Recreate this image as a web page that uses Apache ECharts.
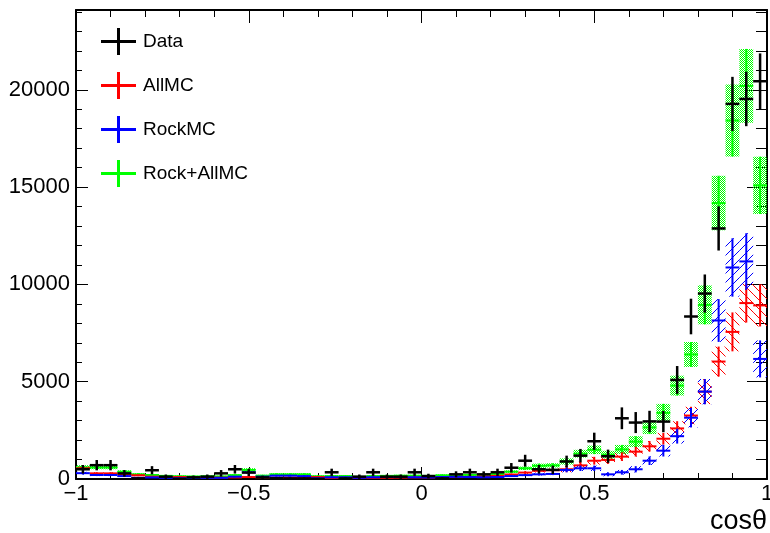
<!DOCTYPE html>
<html>
<head>
<meta charset="utf-8">
<title>cos theta</title>
<script src="https://cdn.jsdelivr.net/npm/echarts@6/dist/echarts.min.js"></script>
<style>
  html, body { margin: 0; padding: 0; background: #fff; }
  #main { width: 770px; height: 533px; }
</style>
</head>
<body>
<div id="main"></div>
<script>
// bin centres (50 bins, width 0.04, from -1 to 1)
var binCenters = [
  -0.98, -0.94, -0.90, -0.86, -0.82, -0.78, -0.74, -0.70, -0.66, -0.62,
  -0.58, -0.54, -0.50, -0.46, -0.42, -0.38, -0.34, -0.30, -0.26, -0.22,
  -0.18, -0.14, -0.10, -0.06, -0.02, 0.02, 0.06, 0.10, 0.14, 0.18,
  0.22, 0.26, 0.30, 0.34, 0.38, 0.42, 0.46, 0.50, 0.54, 0.58,
  0.62, 0.66, 0.70, 0.74, 0.78, 0.82, 0.86, 0.90, 0.94, 0.98
];
var binWidth = 0.04;

var dataVals = [
  500, 710, 710, 290, 30, 450, 120, 10, 85, 120,
  290, 500, 330, 80, 40, 30, 30, 5, 345, 30,
  120, 345, 120, 120, 345, 150, 30, 240, 345, 240,
  345, 580, 940, 500, 470, 900, 1200, 1940, 1170, 3120,
  2900, 2960, 2950, 5090, 8350, 9530, 12875, 19275, 19530, 20440
];
var dataErr = [
  220, 265, 265, 170, 55, 210, 110, 30, 90, 110,
  170, 220, 180, 90, 65, 55, 55, 25, 185, 55,
  110, 185, 110, 110, 185, 120, 55, 155, 185, 155,
  185, 240, 305, 220, 215, 300, 345, 440, 340, 560,
  540, 545, 545, 715, 915, 980, 1135, 1390, 1400, 1430
];

var allMC = [
  550, 290, 290, 230, 190, 120, 100, 100, 80, 80,
  70, 80, 100, 70, 70, 70, 80, 100, 60, 60,
  60, 60, 60, 70, 80, 80, 90, 100, 110, 130,
  160, 230, 330, 420, 450, 500, 700, 940, 980, 1150,
  1405, 1680, 2070, 2600, 3260, 4490, 6035, 7560, 9040, 8920
];
var allMCErr = [
  90, 60, 60, 50, 45, 35, 30, 30, 25, 25,
  25, 25, 30, 25, 25, 25, 25, 30, 20, 20,
  20, 20, 20, 25, 25, 25, 25, 30, 30, 35,
  40, 50, 70, 90, 100, 150, 180, 200, 200, 220,
  250, 270, 300, 370, 450, 640, 770, 1000, 1000, 1080
];

var rockMC = [
  300, 205, 205, 150, 60, 80, 60, 40, 50, 60,
  60, 120, 345, 120, 170, 170, 150, 40, 90, 90,
  60, 90, 100, 100, 90, 80, 100, 110, 100, 90,
  100, 150, 200, 240, 260, 465, 550, 550, 240, 345,
  500, 940, 1455, 2200, 3150, 4490, 8145, 10870, 11180, 6170
];
var rockMCErr = [
  70, 55, 55, 45, 25, 30, 25, 20, 20, 25,
  25, 35, 70, 35, 45, 45, 40, 20, 30, 30,
  25, 30, 30, 30, 30, 30, 30, 35, 30, 30,
  30, 40, 50, 60, 60, 120, 140, 140, 100, 120,
  160, 220, 300, 380, 500, 650, 1100, 1500, 1450, 950
];

var rockAllMC = [
  600, 590, 590, 375, 240, 205, 160, 140, 130, 140,
  130, 200, 465, 170, 240, 240, 240, 140, 150, 150,
  110, 150, 160, 170, 170, 160, 190, 210, 210, 220,
  260, 375, 550, 680, 700, 900, 1300, 1500, 1250, 1520,
  1920, 2650, 3400, 4800, 6400, 8950, 14180, 18420, 20200, 15090
];
var rockAllMCErr = [
  110, 90, 90, 70, 55, 50, 40, 40, 35, 40,
  35, 45, 90, 45, 55, 55, 55, 40, 40, 40,
  35, 40, 40, 45, 45, 45, 45, 50, 50, 50,
  55, 70, 90, 110, 110, 160, 200, 220, 200, 230,
  280, 340, 460, 510, 640, 1000, 1400, 1850, 1900, 1470
];

var xTicks = [-1, -0.5, 0, 0.5, 1];
var yTicks = [0, 5000, 10000, 15000, 20000];

function toSeriesData(vals, errs) {
  return binCenters.map(function (c, i) {
    return [c, vals[i], errs[i]];
  });
}

// hatch / dot patterns made on a small canvas
function hatch(color, rising) {
  var c = document.createElement('canvas');
  c.width = 9; c.height = 9;
  var g = c.getContext('2d');
  g.fillStyle = color;
  for (var i = 0; i < 9; i++) {
    g.fillRect(i, rising ? 8 - i : i, 1, 1);
  }
  return { image: c, repeat: 'repeat' };
}
function dots(color) {
  var c = document.createElement('canvas');
  c.width = 2; c.height = 2;
  var g = c.getContext('2d');
  g.fillStyle = color;
  g.fillRect(0, 0, 1, 1);
  g.fillRect(1, 1, 1, 1);
  return { image: c, repeat: 'repeat' };
}

function makeRender(fill, lw) {
  return function (params, api) {
    var x = api.value(0), y = api.value(1), e = api.value(2);
    var half = binWidth / 2;
    var pL = api.coord([x - half, y]);
    var pR = api.coord([x + half, y]);
    var pT = api.coord([x, y + e]);
    var pB = api.coord([x, Math.max(y - e, 0)]);
    var color = api.visual('color');
    var children = [];
    if (fill) {
      children.push({
        type: 'rect',
        shape: { x: pL[0], y: pT[1], width: pR[0] - pL[0], height: pB[1] - pT[1] },
        style: { fill: fill }
      });
    }
    children.push({
      type: 'line',
      shape: { x1: pL[0], y1: pL[1], x2: pR[0], y2: pR[1] },
      style: { stroke: color, lineWidth: lw }
    });
    children.push({
      type: 'line',
      shape: { x1: pT[0], y1: pT[1], x2: pB[0], y2: pB[1] },
      style: { stroke: color, lineWidth: lw }
    });
    return { type: 'group', children: children };
  };
}

var plusIcon = 'path://M0,12H16V0H19V12H35V15H19V27H16V15H0Z';

var chart = echarts.init(document.getElementById('main'));

var axisFont = { fontFamily: 'Liberation Sans, Arial, sans-serif', fontSize: 22, color: '#000' };

var option = {
  animation: false,
  backgroundColor: '#fff',
  grid: { left: 76, right: 3, top: 10, bottom: 54, outerBoundsMode: 'none' },
  legend: {
    orient: 'vertical',
    left: 101,
    top: 28,
    padding: 0,
    itemWidth: 35,
    itemHeight: 27,
    itemGap: 17,
    selectedMode: false,
    icon: plusIcon,
    textStyle: { fontFamily: 'Liberation Sans, Arial, sans-serif', fontSize: 19, color: '#000', padding: [0, 0, 0, 2] },
    data: ['Data', 'AllMC', 'RockMC', 'Rock+AllMC']
  },
  xAxis: [
    {
      type: 'value', position: 'bottom', min: -1, max: 1, interval: 0.5,
      name: 'cosθ', nameLocation: 'end', nameGap: 0,
      nameTextStyle: {
        fontFamily: 'Liberation Sans, Arial, sans-serif', fontSize: 27, color: '#000',
        align: 'right', verticalAlign: 'top', padding: [29, 0, 0, 0]
      },
      axisLine: { onZero: false, lineStyle: { color: '#000', width: 2 } },
      axisTick: { inside: true, length: 12, lineStyle: { color: '#000', width: 1 } },
      minorTick: { show: true, splitNumber: 5, length: 6, lineStyle: { color: '#000', width: 1 } },
      axisLabel: Object.assign({
        margin: 4,
        formatter: function (v) {
          if (xTicks.indexOf(v) < 0) return '';
          return String(v).replace('-', '\u2212');
        }
      }, axisFont),
      splitLine: { show: false }
    },
    {
      type: 'value', position: 'top', min: -1, max: 1, interval: 0.5,
      axisLine: { onZero: false, lineStyle: { color: '#000', width: 2 } },
      axisTick: { inside: true, length: 13, lineStyle: { color: '#000', width: 1 } },
      minorTick: { show: true, splitNumber: 5, length: 7, lineStyle: { color: '#000', width: 1 } },
      axisLabel: { show: false },
      splitLine: { show: false }
    }
  ],
  yAxis: [
    {
      type: 'value', position: 'left', min: 0, max: 24100, interval: 5000,
      axisLine: { show: true, onZero: false, lineStyle: { color: '#000', width: 2 } },
      axisTick: { show: true, inside: true, length: 12, lineStyle: { color: '#000', width: 1 } },
      axisLabel: Object.assign({
        margin: 6,
        showMaxLabel: false,
        formatter: function (v) { return yTicks.indexOf(v) < 0 ? '' : String(v); }
      }, axisFont),
      splitLine: { show: false }
    },
    {
      type: 'value', position: 'left', min: 0, max: 24100, interval: 1000,
      axisLine: { show: false, onZero: false },
      axisTick: { show: true, inside: true, length: 6, lineStyle: { color: '#000', width: 1 } },
      axisLabel: { show: false },
      splitLine: { show: false }
    },
    {
      type: 'value', position: 'right', min: 0, max: 24100, interval: 5000,
      axisLine: { show: true, onZero: false, lineStyle: { color: '#000', width: 2 } },
      axisTick: { show: true, inside: true, length: 20, lineStyle: { color: '#000', width: 1 } },
      axisLabel: { show: false },
      splitLine: { show: false }
    },
    {
      type: 'value', position: 'right', min: 0, max: 24100, interval: 1000,
      axisLine: { show: false, onZero: false },
      axisTick: { show: true, inside: true, length: 11, lineStyle: { color: '#000', width: 1 } },
      axisLabel: { show: false },
      splitLine: { show: false }
    }
  ],
  series: [
    {
      name: 'Rock+AllMC', type: 'custom', clip: true,
      itemStyle: { color: '#00ff00' },
      renderItem: makeRender(dots('#00ff00'), 2),
      data: toSeriesData(rockAllMC, rockAllMCErr)
    },
    {
      name: 'AllMC', type: 'custom', clip: true,
      itemStyle: { color: '#ff0000' },
      renderItem: makeRender(hatch('#ff0000', false), 2),
      data: toSeriesData(allMC, allMCErr)
    },
    {
      name: 'RockMC', type: 'custom', clip: true,
      itemStyle: { color: '#0000ff' },
      renderItem: makeRender(hatch('#0000ff', true), 2),
      data: toSeriesData(rockMC, rockMCErr)
    },
    {
      name: 'Data', type: 'custom', clip: true,
      itemStyle: { color: '#000000' },
      renderItem: makeRender(null, 2.5),
      data: toSeriesData(dataVals, dataErr)
    }
  ]
};

chart.setOption(option);
</script>
</body>
</html>
